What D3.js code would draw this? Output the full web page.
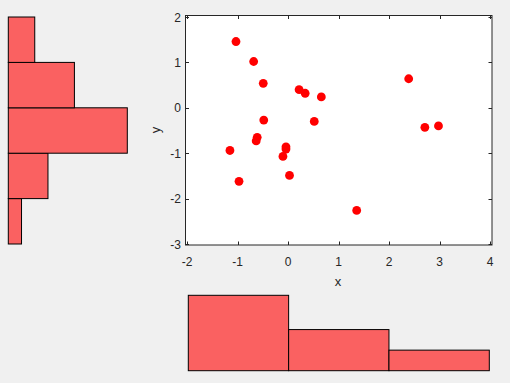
<!DOCTYPE html>
<html><head><meta charset="utf-8">
<script src="https://cdn.jsdelivr.net/npm/d3@7"></script>
<style>
html,body{margin:0;padding:0;background:#f0f0f0;}
svg{display:block;font-family:"Liberation Sans",Arial,sans-serif;}
</style></head>
<body>
<svg id="c" width="510" height="383"></svg>
<script>
const xValues = [-1.03,-0.68,-0.49,0.22,0.34,0.66,2.39,-0.48,0.52,2.71,2.98,-0.61,-0.63,-1.15,-0.04,-0.04,-0.10,0.03,-0.97,1.36];
const yValues = [1.46,1.02,0.54,0.40,0.32,0.24,0.64,-0.27,-0.30,-0.43,-0.40,-0.65,-0.73,-0.94,-0.86,-0.91,-1.07,-1.49,-1.62,-2.26];
const xTicks = [-2,-1,0,1,2,3,4];
const yTicks = [-3,-2,-1,0,1,2];
const xBinEdges = [-2,0,2,4];
const xCounts = [11,6,3];
const yBinEdges = [-3,-2,-1,0,1,2];
const yCounts = [1,3,9,5,2];

const svg = d3.select("#c");
const ink = "#262626";
const fill = "rgb(250,97,97)";

// main axes
const L = 185.5, R = 492, T = 15.5, B = 245;
const x = d3.scaleLinear().domain([-2,4]).range([187,490]);
const y = d3.scaleLinear().domain([-3,2]).range([244,17]);

svg.append("rect").attr("x",L).attr("y",T).attr("width",R-L).attr("height",B-T)
  .attr("fill","#fff");

const g = svg.append("g");
g.selectAll("circle").data(xValues).enter().append("circle")
  .attr("cx",(d)=>x(d)).attr("cy",(d,i)=>y(yValues[i])).attr("r",4.4)
  .attr("fill","#ff0000");

// axes with inward ticks
const tl = 3.5;
const ax = svg.append("g").attr("stroke",ink).attr("fill","none").attr("stroke-width",1);
ax.append("rect").attr("x",L).attr("y",T).attr("width",R-L).attr("height",B-T);
xTicks.forEach(t=>{
  const px = Math.round(x(t))+0.5;
  ax.append("line").attr("x1",px).attr("x2",px).attr("y1",B).attr("y2",B-tl);
  ax.append("line").attr("x1",px).attr("x2",px).attr("y1",T).attr("y2",T+tl);
});
yTicks.forEach(t=>{
  const py = Math.round(y(t))+0.5;
  ax.append("line").attr("x1",L).attr("x2",L+tl).attr("y1",py).attr("y2",py);
  ax.append("line").attr("x1",R).attr("x2",R-tl).attr("y1",py).attr("y2",py);
});
svg.append("g").selectAll("text").data(xTicks).enter().append("text")
  .attr("x",d=>x(d)).attr("y",266).attr("text-anchor","middle")
  .attr("font-size","12px").attr("fill",ink).text(d=>d);
svg.append("g").selectAll("text").data(yTicks).enter().append("text")
  .attr("x",181).attr("y",d=>y(d)+4.5).attr("text-anchor","end")
  .attr("font-size","12px").attr("fill",ink).text(d=>d);
svg.append("text").attr("x",338).attr("y",286).attr("text-anchor","middle")
  .attr("font-size","13px").attr("fill",ink).text("x");
svg.append("text").attr("transform","translate(160,130) rotate(-90)")
  .attr("text-anchor","middle").attr("font-size","13px").attr("fill",ink).text("y");

// bottom histogram
const hx = d3.scaleLinear().domain([-2,4]).range([188.3,489.3]);
const hc = d3.scaleLinear().domain([0,11]).range([370.7,295.3]);
svg.append("g").selectAll("rect").data(xCounts).enter().append("rect")
  .attr("x",(d,i)=>hx(xBinEdges[i])).attr("width",(d,i)=>hx(xBinEdges[i+1])-hx(xBinEdges[i]))
  .attr("y",d=>hc(d)).attr("height",d=>hc(0)-hc(d))
  .attr("fill",fill).attr("stroke","#000").attr("stroke-width",1);

// left histogram
const vc = d3.scaleLinear().domain([0,9]).range([8.3,127.3]);
svg.append("g").selectAll("rect").data(yCounts).enter().append("rect")
  .attr("y",(d,i)=>y(yBinEdges[i+1])).attr("height",(d,i)=>y(yBinEdges[i])-y(yBinEdges[i+1]))
  .attr("x",vc(0)).attr("width",d=>vc(d)-vc(0))
  .attr("fill",fill).attr("stroke","#000").attr("stroke-width",1);
</script>
</body></html>
